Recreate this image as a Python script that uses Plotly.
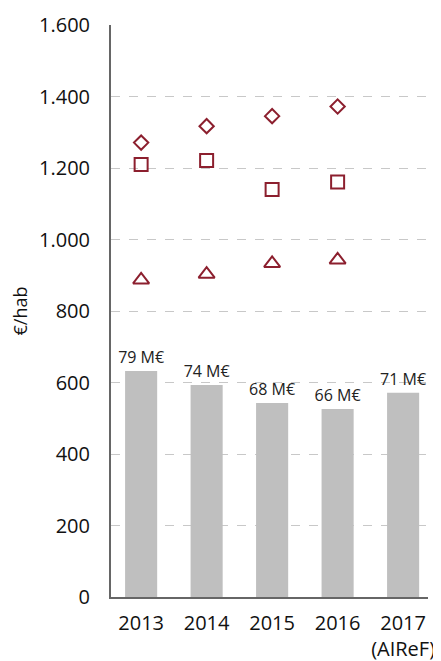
import plotly.graph_objects as go

# categories and series values
years = ["2013", "2014", "2015", "2016", "2017<br>(AIReF)"]
bar_values = [632, 593, 543, 526, 571]
bar_labels = ["79 M€", "74 M€", "68 M€", "66 M€", "71 M€"]

marker_years = ["2013", "2014", "2015", "2016"]
diamond_values = [1271, 1317, 1345, 1372]
square_values = [1210, 1221, 1140, 1161]
triangle_values = [887, 903, 933, 943]

y_ticks = [0, 200, 400, 600, 800, 1000, 1200, 1400, 1600]
y_ticktext = ["0", "200", "400", "600", "800", "1.000", "1.200", "1.400", "1.600"]

red = "#8c1f2e"
font = "Open Sans"

fig = go.Figure()

fig.add_trace(go.Bar(x=years, y=bar_values, text=bar_labels, textposition="outside",
                     constraintext="none",
                     textfont=dict(family=font, size=16, color="#222222"),
                     marker=dict(color="#bfbfbf", line=dict(width=0)), width=0.49,
                     cliponaxis=False))

# open markers for the three per-capita series
for vals, sym, size in [(diamond_values, "diamond-open", 11), (square_values, "square-open", 13),
                        (triangle_values, "triangle-up-open", 14)]:
    fig.add_trace(go.Scatter(x=marker_years, y=vals, mode="markers",
                             marker=dict(symbol=sym, size=size, color=red, line=dict(width=2, color=red))))

# page body has an 8px margin, so the figure is 8px smaller than the window
fig.update_layout(
    width=433, height=653,
    margin=dict(l=103, r=13, t=17, b=64),
    plot_bgcolor="white", paper_bgcolor="white",
    showlegend=False,
    font=dict(family=font, color="#111111"),
    xaxis=dict(showgrid=False, showline=True, linecolor="#666666", linewidth=2,
               ticks="outside", ticklen=7, tickcolor="rgba(0,0,0,0)", automargin=False,
               range=[-0.46, 4.38], tickfont=dict(size=20, family=font)),
    yaxis=dict(range=[0, 1600], tickvals=y_ticks, ticktext=y_ticktext,
               showline=True, linecolor="#666666", linewidth=2,
               showgrid=True, gridcolor="#c8c8c8", griddash="dash", gridwidth=1,
               zeroline=False, ticks="outside", ticklen=15, tickcolor="rgba(0,0,0,0)",
               automargin=False, tickfont=dict(size=20, family=font),
               title=dict(text="€/hab", font=dict(size=18, family=font), standoff=20)),
)

fig.write_html("out.html")
